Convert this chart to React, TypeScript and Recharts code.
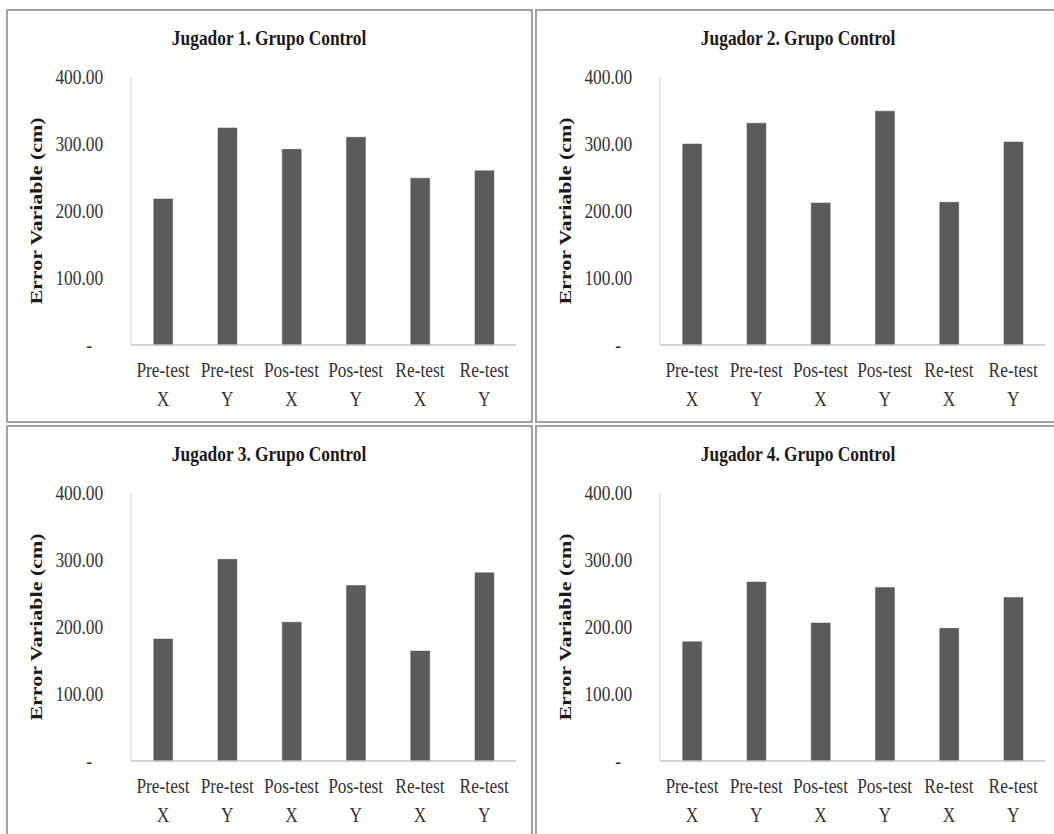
import { BarChart, Bar, XAxis, YAxis } from "recharts";

const TESTS = ["Pre-test", "Pre-test", "Pos-test", "Pos-test", "Re-test", "Re-test"];
const AXES = ["X", "Y", "X", "Y", "X", "Y"];
const Y_TICKS = [0, 100, 200, 300, 400];

const JUGADOR_1 = [218, 324, 292, 310, 249, 260];
const JUGADOR_2 = [300, 331, 212, 349, 213, 303];
const JUGADOR_3 = [182, 301, 207, 262, 164, 281];
const JUGADOR_4 = [178, 267, 206, 259, 198, 244];

const TITLES = [
  "Jugador 1. Grupo Control",
  "Jugador 2. Grupo Control",
  "Jugador 3. Grupo Control",
  "Jugador 4. Grupo Control",
];

const FONT = "'Liberation Serif', 'Times New Roman', serif";
// the source picture is squeezed horizontally, so each chart is drawn wider and scaled down
const SQUEEZE = 0.79;
const CHART_W = 667;
const CHART_H = 410;
const BORDER = "2px solid #a3a3a3";

function XTick(props: any) {
  const { x, y, payload } = props;
  const raw = String(payload.value);
  const cut = raw.lastIndexOf(" ");
  const top = raw.slice(0, cut);
  const bottom = raw.slice(cut + 1);
  return (
    <g>
      <text x={x} y={y + 24} textAnchor="middle" fontFamily={FONT} fontSize={22} fill="#333">
        {top}
      </text>
      <text x={x} y={y + 53} textAnchor="middle" fontFamily={FONT} fontSize={22} fill="#333">
        {bottom}
      </text>
    </g>
  );
}

function YTick(props: any) {
  const { x, y, payload } = props;
  const v = Number(payload.value);
  return (
    <text
      x={v === 0 ? x - 14 : x}
      y={y + 7}
      textAnchor="end"
      fontFamily={FONT}
      fontSize={22}
      fill="#333"
    >
      {v === 0 ? "-" : v.toFixed(2)}
    </text>
  );
}

function YLabel(props: any) {
  const { viewBox } = props;
  const cx = viewBox.x + 38;
  const cy = viewBox.y + viewBox.height / 2;
  return (
    <text
      x={cx}
      y={cy}
      transform={`rotate(-90, ${cx}, ${cy})`}
      textAnchor="middle"
      dominantBaseline="central"
      fontFamily={FONT}
      fontSize={22}
      fontWeight="bold"
      fill="#1a1a1a"
    >
      Error Variable (cm)
    </text>
  );
}

function PlayerChart({ title, values, left, top }: { title: string; values: number[]; left: number; top: number }) {
  const data = TESTS.map((t, i) => ({ id: `${t} ${AXES[i]}`, value: values[i] }));
  return (
    <div
      style={{
        position: "absolute",
        left,
        top,
        width: CHART_W,
        height: CHART_H,
        transform: `scaleX(${SQUEEZE})`,
        transformOrigin: "left top",
      }}
    >
      <div
        style={{
          position: "absolute",
          left: 0,
          width: 666,
          top: 15,
          textAlign: "center",
          fontFamily: FONT,
          fontWeight: "bold",
          fontSize: 22,
          lineHeight: "28px",
          color: "#1a1a1a",
        }}
      >
        {title}
      </div>
      <BarChart width={CHART_W} height={CHART_H} data={data} margin={{ top: 68, right: 21, left: 0, bottom: 14 }}>
        <XAxis
          dataKey="id"
          interval={0}
          tick={<XTick />}
          tickLine={false}
          axisLine={{ stroke: "#c4c4c4", strokeWidth: 1.5 }}
          height={60}
        />
        <YAxis
          domain={[0, 400]}
          ticks={Y_TICKS}
          tick={<YTick />}
          tickLine={false}
          tickMargin={29}
          axisLine={{ stroke: "#d9d9d9", strokeWidth: 1.5 }}
          width={158}
          label={<YLabel />}
        />
        <Bar dataKey="value" fill="#5b5b5b" stroke="#4d4d4d" strokeWidth={0.5} barSize={24} isAnimationActive={false} />
      </BarChart>
    </div>
  );
}

export default function App() {
  const panels = [
    { left: 6, top: 9, values: JUGADOR_1, title: TITLES[0] },
    { left: 535, top: 9, values: JUGADOR_2, title: TITLES[1] },
    { left: 6, top: 425, values: JUGADOR_3, title: TITLES[2] },
    { left: 535, top: 425, values: JUGADOR_4, title: TITLES[3] },
  ];
  return (
    <div
      style={{
        position: "absolute",
        left: 0,
        top: 0,
        width: 1054,
        height: 834,
        overflow: "hidden",
        background: "#fff",
      }}
    >
      {panels.map((p) => (
        <div
          key={p.title + "-frame"}
          style={{
            position: "absolute",
            left: p.left,
            top: p.top,
            width: p.left > 100 ? 540 : 527,
            height: p.top > 100 ? 430 : 414,
            border: BORDER,
            boxSizing: "border-box",
          }}
        />
      ))}
      {panels.map((p) => (
        <PlayerChart key={p.title} title={p.title} values={p.values} left={p.left} top={p.top} />
      ))}
    </div>
  );
}
